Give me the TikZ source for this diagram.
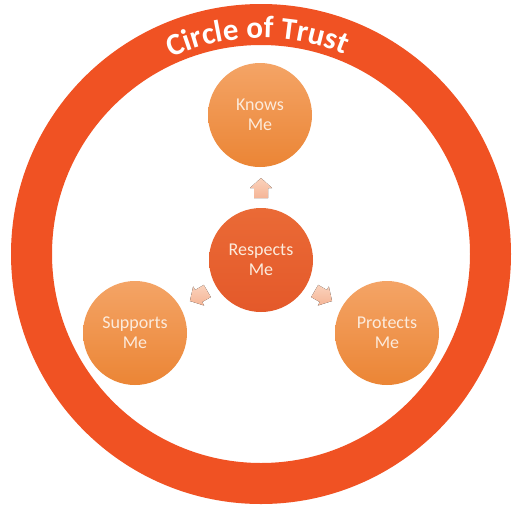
\documentclass[tikz,border=0pt]{standalone}
\usepackage{fontspec}
\setmainfont{Carlito}
\usetikzlibrary{decorations.text}
\definecolor{ringred}{HTML}{F05223}
\definecolor{outtop}{HTML}{F4A466}
\definecolor{outbot}{HTML}{EB8535}
\definecolor{midtop}{HTML}{EA6A36}
\definecolor{midbot}{HTML}{E4592A}
\definecolor{arrtop}{HTML}{FAD2BC}
\definecolor{arrbot}{HTML}{F5B596}
\definecolor{txtcream}{HTML}{FCEBDC}
\begin{document}
\begin{tikzpicture}[x=1pt,y=1pt,
  petal/.style={circle, minimum size=104pt, inner sep=0pt, top color=outtop, bottom color=outbot,
    text=txtcream, align=center, font=\fontsize{18}{20}\selectfont},
  hub/.style={petal, top color=midtop, bottom color=midbot},
  arrowshape/.style={top color=arrtop, bottom color=arrbot, draw=none}]
\useasboundingbox (0,0) rectangle (520,-507);
\fill[white] (0,0) rectangle (520,-507);
\coordinate (C) at (261,-254);
% ring
\fill[ringred, even odd rule] (C) circle[radius=250pt] (C) circle[radius=209pt];
% title along the ring
\path[decorate, decoration={text along path, text align=center, text color=white,
  text={|\fontsize{31}{31}\selectfont\bfseries|Circle of Trust}}]
  ([shift={(152:216pt)}]C) arc[start angle=152, end angle=30, radius=216pt];
% circles
\node[hub] (respects) at (261,-260) {Respects\\Me};
\node[petal] (knows) at (260,-115) {Knows\\Me};
\node[petal] (supports) at (135,-333) {Supports\\Me};
\node[petal] (protects) at (387,-333) {Protects\\Me};
% arrows
\foreach \ang/\nm in {90/a1, 210/a2, 330/a3}{
  \coordinate (\nm) at ([shift={(\ang:72pt)}]respects.center);
  \fill[arrowshape, shift={(\nm)}, rotate=\ang]
    (-10,-7) -- (0,-7) -- (0,-11) -- (10,0) -- (0,11) -- (0,7) -- (-10,7) -- cycle;
}
\end{tikzpicture}
\end{document}
